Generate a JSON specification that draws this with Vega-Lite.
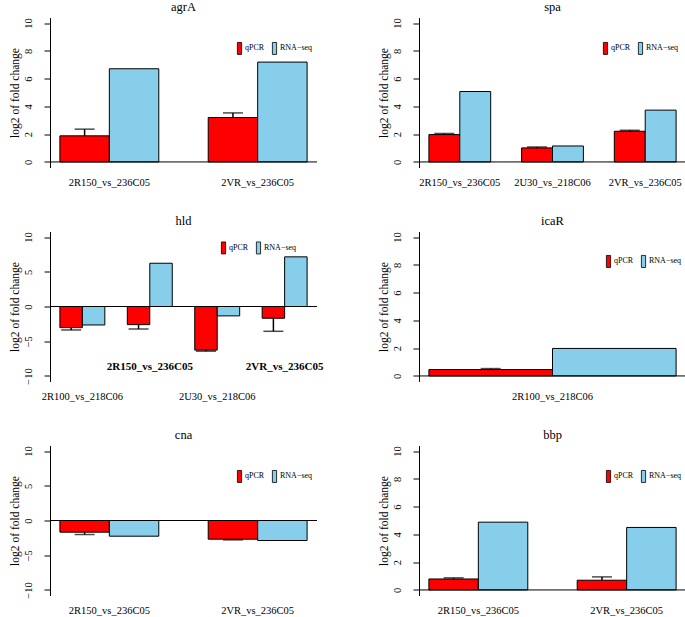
{
  "$schema": "https://vega.github.io/schema/vega-lite/v6.json",
  "padding": {"left": 8, "top": 0.5, "right": 0, "bottom": 0},
  "background": "white",
  "datasets": {
    "d": [
      {"gene": "agrA", "group": "2R150_vs_236C05", "type": "qPCR", "value": 1.88, "err": 2.36},
      {"gene": "agrA", "group": "2R150_vs_236C05", "type": "RNA−seq", "value": 6.71, "err": null},
      {"gene": "agrA", "group": "2VR_vs_236C05", "type": "qPCR", "value": 3.2, "err": 3.53},
      {"gene": "agrA", "group": "2VR_vs_236C05", "type": "RNA−seq", "value": 7.19, "err": null},
      {"gene": "spa", "group": "2R150_vs_236C05", "type": "qPCR", "value": 1.97, "err": 2.05},
      {"gene": "spa", "group": "2R150_vs_236C05", "type": "RNA−seq", "value": 5.07, "err": null},
      {"gene": "spa", "group": "2U30_vs_218C06", "type": "qPCR", "value": 1.01, "err": 1.08},
      {"gene": "spa", "group": "2U30_vs_218C06", "type": "RNA−seq", "value": 1.15, "err": null},
      {"gene": "spa", "group": "2VR_vs_236C05", "type": "qPCR", "value": 2.21, "err": 2.28},
      {"gene": "spa", "group": "2VR_vs_236C05", "type": "RNA−seq", "value": 3.73, "err": null},
      {"gene": "hld", "group": "2R100_vs_218C06", "type": "qPCR", "value": -3.04, "err": -3.38},
      {"gene": "hld", "group": "2R100_vs_218C06", "type": "RNA−seq", "value": -2.66, "err": null},
      {"gene": "hld", "group": "2R150_vs_236C05", "type": "qPCR", "value": -2.61, "err": -3.24},
      {"gene": "hld", "group": "2R150_vs_236C05", "type": "RNA−seq", "value": 6.23, "err": null},
      {"gene": "hld", "group": "2U30_vs_218C06", "type": "qPCR", "value": -6.28, "err": -6.43},
      {"gene": "hld", "group": "2U30_vs_218C06", "type": "RNA−seq", "value": -1.35, "err": null},
      {"gene": "hld", "group": "2VR_vs_236C05", "type": "qPCR", "value": -1.69, "err": -3.57},
      {"gene": "hld", "group": "2VR_vs_236C05", "type": "RNA−seq", "value": 7.15, "err": null},
      {"gene": "icaR", "group": "2R100_vs_218C06", "type": "qPCR", "value": 0.46, "err": 0.53},
      {"gene": "icaR", "group": "2R100_vs_218C06", "type": "RNA−seq", "value": 1.98, "err": null},
      {"gene": "cna", "group": "2R150_vs_236C05", "type": "qPCR", "value": -1.68, "err": -2.02},
      {"gene": "cna", "group": "2R150_vs_236C05", "type": "RNA−seq", "value": -2.26, "err": null},
      {"gene": "cna", "group": "2VR_vs_236C05", "type": "qPCR", "value": -2.69, "err": -2.79},
      {"gene": "cna", "group": "2VR_vs_236C05", "type": "RNA−seq", "value": -2.88, "err": null},
      {"gene": "bbp", "group": "2R150_vs_236C05", "type": "qPCR", "value": 0.79, "err": 0.87},
      {"gene": "bbp", "group": "2R150_vs_236C05", "type": "RNA−seq", "value": 4.88, "err": null},
      {"gene": "bbp", "group": "2VR_vs_236C05", "type": "qPCR", "value": 0.7, "err": 0.94},
      {"gene": "bbp", "group": "2VR_vs_236C05", "type": "RNA−seq", "value": 4.5, "err": null}
    ]
  },
  "columns": 2,
  "spacing": {"row": 64, "column": 102},
  "bounds": "flush",
  "resolve": {"scale": {"x": "independent", "y": "independent", "xOffset": "independent", "color": "independent"}, "legend": {"color": "independent"}, "axis": {"x": "independent", "y": "independent"}},
  "concat": [
    {
      "title": "agrA", "width": 267, "height": 150,
      "data": {"name": "d"},
      "transform": [{"filter": "datum.gene === 'agrA'"}],
      "layer": [
        {"mark": {"type": "bar", "stroke": "black", "strokeWidth": 1},
         "encoding": {
           "x": {"field": "group", "type": "nominal", "sort": null, "title": null, "scale": {"paddingInner": 0.3333, "paddingOuter": 0.0667}},
           "xOffset": {"field": "type", "type": "nominal", "sort": null, "scale": {"paddingInner": 0, "paddingOuter": 0}},
           "y": {"field": "value", "type": "quantitative", "title": "log2 of fold change", "scale": {"domain": [-0.4, 10.4], "nice": false, "zero": false}, "axis": {"values": [0, 2, 4, 6, 8, 10], "tickCount": 20, "format": "d", "labelOverlap": false}},
           "color": {"field": "type", "type": "nominal", "sort": null, "scale": {"domain": ["qPCR", "RNA−seq"], "range": ["#FF0000", "#87CEEB"]}, "legend": {"legendX": 183, "legendY": 24}}
         }},
        {"transform": [{"filter": "datum.type === 'qPCR'"}], "mark": {"type": "rule", "color": "black", "strokeWidth": 1.5},
         "encoding": {"x": {"field": "group", "type": "nominal", "sort": null}, "xOffset": {"field": "type", "type": "nominal", "sort": null}, "y": {"field": "value", "type": "quantitative"}, "y2": {"field": "err"}}},
        {"transform": [{"filter": "datum.type === 'qPCR'"}], "mark": {"type": "tick", "color": "black", "thickness": 1.5, "size": 20},
         "encoding": {"x": {"field": "group", "type": "nominal", "sort": null}, "xOffset": {"field": "type", "type": "nominal", "sort": null}, "y": {"field": "err", "type": "quantitative"}}},
        {"data": {"values": [{}]}, "mark": {"type": "rule", "color": "black", "strokeWidth": 1}, "encoding": {"y": {"datum": 0}}}
      ]
    },
    {
      "title": "spa", "width": 267, "height": 150,
      "data": {"name": "d"},
      "transform": [{"filter": "datum.gene === 'spa'"}],
      "layer": [
        {"mark": {"type": "bar", "stroke": "black", "strokeWidth": 1},
         "encoding": {
           "x": {"field": "group", "type": "nominal", "sort": null, "title": null, "scale": {"paddingInner": 0.3333, "paddingOuter": 0.1067}},
           "xOffset": {"field": "type", "type": "nominal", "sort": null, "scale": {"paddingInner": 0, "paddingOuter": 0}},
           "y": {"field": "value", "type": "quantitative", "title": "log2 of fold change", "scale": {"domain": [-0.4, 10.4], "nice": false, "zero": false}, "axis": {"values": [0, 2, 4, 6, 8, 10], "tickCount": 20, "format": "d", "labelOverlap": false}},
           "color": {"field": "type", "type": "nominal", "sort": null, "scale": {"domain": ["qPCR", "RNA−seq"], "range": ["#FF0000", "#87CEEB"]}, "legend": {"legendX": 180, "legendY": 24}}
         }},
        {"transform": [{"filter": "datum.type === 'qPCR'"}], "mark": {"type": "rule", "color": "black", "strokeWidth": 1.5},
         "encoding": {"x": {"field": "group", "type": "nominal", "sort": null}, "xOffset": {"field": "type", "type": "nominal", "sort": null}, "y": {"field": "value", "type": "quantitative"}, "y2": {"field": "err"}}},
        {"transform": [{"filter": "datum.type === 'qPCR'"}], "mark": {"type": "tick", "color": "black", "thickness": 1.5, "size": 20},
         "encoding": {"x": {"field": "group", "type": "nominal", "sort": null}, "xOffset": {"field": "type", "type": "nominal", "sort": null}, "y": {"field": "err", "type": "quantitative"}}},
        {"data": {"values": [{}]}, "mark": {"type": "rule", "color": "black", "strokeWidth": 1}, "encoding": {"y": {"datum": 0}}}
      ]
    },
    {
      "title": "hld", "width": 267, "height": 150,
      "data": {"name": "d"},
      "transform": [{"filter": "datum.gene === 'hld'"}],
      "layer": [
        {"mark": {"type": "bar", "stroke": "black", "strokeWidth": 1},
         "encoding": {
           "x": {"field": "group", "type": "nominal", "sort": null, "title": null, "scale": {"paddingInner": 0.3333, "paddingOuter": 0.1467},
                 "axis": {"labelPadding": {"condition": {"test": "datum.value === '2R150_vs_236C05' || datum.value === '2VR_vs_236C05'", "value": -21}, "value": 10},
                          "labelFontWeight": {"condition": {"test": "datum.value === '2R150_vs_236C05' || datum.value === '2VR_vs_236C05'", "value": "bold"}, "value": "normal"},
                          "labelFontSize": {"condition": {"test": "datum.value === '2R150_vs_236C05' || datum.value === '2VR_vs_236C05'", "value": 11}, "value": 10.5}}},
           "xOffset": {"field": "type", "type": "nominal", "sort": null, "scale": {"paddingInner": 0, "paddingOuter": 0}},
           "y": {"field": "value", "type": "quantitative", "title": "log2 of fold change", "scale": {"domain": [-10.8, 10.8], "nice": false, "zero": false}, "axis": {"values": [-10, -5, 0, 5, 10], "tickCount": 20, "format": "d", "labelOverlap": false}},
           "color": {"field": "type", "type": "nominal", "sort": null, "scale": {"domain": ["qPCR", "RNA−seq"], "range": ["#FF0000", "#87CEEB"]}, "legend": {"legendX": 167, "legendY": 9.5}}
         }},
        {"transform": [{"filter": "datum.type === 'qPCR'"}], "mark": {"type": "rule", "color": "black", "strokeWidth": 1.5},
         "encoding": {"x": {"field": "group", "type": "nominal", "sort": null}, "xOffset": {"field": "type", "type": "nominal", "sort": null}, "y": {"field": "value", "type": "quantitative"}, "y2": {"field": "err"}}},
        {"transform": [{"filter": "datum.type === 'qPCR'"}], "mark": {"type": "tick", "color": "black", "thickness": 1.5, "size": 20},
         "encoding": {"x": {"field": "group", "type": "nominal", "sort": null}, "xOffset": {"field": "type", "type": "nominal", "sort": null}, "y": {"field": "err", "type": "quantitative"}}},
        {"data": {"values": [{}]}, "mark": {"type": "rule", "color": "black", "strokeWidth": 1}, "encoding": {"y": {"datum": 0}}}
      ]
    },
    {
      "title": "icaR", "width": 267, "height": 150,
      "data": {"name": "d"},
      "transform": [{"filter": "datum.gene === 'icaR'"}],
      "layer": [
        {"mark": {"type": "bar", "stroke": "black", "strokeWidth": 1},
         "encoding": {
           "x": {"field": "group", "type": "nominal", "sort": null, "title": null, "scale": {"paddingInner": 0.3333, "paddingOuter": 0.0267}},
           "xOffset": {"field": "type", "type": "nominal", "sort": null, "scale": {"paddingInner": 0, "paddingOuter": 0}},
           "y": {"field": "value", "type": "quantitative", "title": "log2 of fold change", "scale": {"domain": [-0.4, 10.4], "nice": false, "zero": false}, "axis": {"values": [0, 2, 4, 6, 8, 10], "tickCount": 20, "format": "d", "labelOverlap": false}},
           "color": {"field": "type", "type": "nominal", "sort": null, "scale": {"domain": ["qPCR", "RNA−seq"], "range": ["#FF0000", "#87CEEB"]}, "legend": {"legendX": 183, "legendY": 23}}
         }},
        {"transform": [{"filter": "datum.type === 'qPCR'"}], "mark": {"type": "rule", "color": "black", "strokeWidth": 1.5},
         "encoding": {"x": {"field": "group", "type": "nominal", "sort": null}, "xOffset": {"field": "type", "type": "nominal", "sort": null}, "y": {"field": "value", "type": "quantitative"}, "y2": {"field": "err"}}},
        {"transform": [{"filter": "datum.type === 'qPCR'"}], "mark": {"type": "tick", "color": "black", "thickness": 1.5, "size": 20},
         "encoding": {"x": {"field": "group", "type": "nominal", "sort": null}, "xOffset": {"field": "type", "type": "nominal", "sort": null}, "y": {"field": "err", "type": "quantitative"}}},
        {"data": {"values": [{}]}, "mark": {"type": "rule", "color": "black", "strokeWidth": 1}, "encoding": {"y": {"datum": 0}}}
      ]
    },
    {
      "title": "cna", "width": 267, "height": 150,
      "data": {"name": "d"},
      "transform": [{"filter": "datum.gene === 'cna'"}],
      "layer": [
        {"mark": {"type": "bar", "stroke": "black", "strokeWidth": 1},
         "encoding": {
           "x": {"field": "group", "type": "nominal", "sort": null, "title": null, "scale": {"paddingInner": 0.3333, "paddingOuter": 0.0667}},
           "xOffset": {"field": "type", "type": "nominal", "sort": null, "scale": {"paddingInner": 0, "paddingOuter": 0}},
           "y": {"field": "value", "type": "quantitative", "title": "log2 of fold change", "scale": {"domain": [-10.8, 10.8], "nice": false, "zero": false}, "axis": {"values": [-10, -5, 0, 5, 10], "tickCount": 20, "format": "d", "labelOverlap": false}},
           "color": {"field": "type", "type": "nominal", "sort": null, "scale": {"domain": ["qPCR", "RNA−seq"], "range": ["#FF0000", "#87CEEB"]}, "legend": {"legendX": 183, "legendY": 24}}
         }},
        {"transform": [{"filter": "datum.type === 'qPCR'"}], "mark": {"type": "rule", "color": "black", "strokeWidth": 1.5},
         "encoding": {"x": {"field": "group", "type": "nominal", "sort": null}, "xOffset": {"field": "type", "type": "nominal", "sort": null}, "y": {"field": "value", "type": "quantitative"}, "y2": {"field": "err"}}},
        {"transform": [{"filter": "datum.type === 'qPCR'"}], "mark": {"type": "tick", "color": "black", "thickness": 1.5, "size": 20},
         "encoding": {"x": {"field": "group", "type": "nominal", "sort": null}, "xOffset": {"field": "type", "type": "nominal", "sort": null}, "y": {"field": "err", "type": "quantitative"}}},
        {"data": {"values": [{}]}, "mark": {"type": "rule", "color": "black", "strokeWidth": 1}, "encoding": {"y": {"datum": 0}}}
      ]
    },
    {
      "title": "bbp", "width": 267, "height": 150,
      "data": {"name": "d"},
      "transform": [{"filter": "datum.gene === 'bbp'"}],
      "layer": [
        {"mark": {"type": "bar", "stroke": "black", "strokeWidth": 1},
         "encoding": {
           "x": {"field": "group", "type": "nominal", "sort": null, "title": null, "scale": {"paddingInner": 0.3333, "paddingOuter": 0.0667}},
           "xOffset": {"field": "type", "type": "nominal", "sort": null, "scale": {"paddingInner": 0, "paddingOuter": 0}},
           "y": {"field": "value", "type": "quantitative", "title": "log2 of fold change", "scale": {"domain": [-0.4, 10.4], "nice": false, "zero": false}, "axis": {"values": [0, 2, 4, 6, 8, 10], "tickCount": 20, "format": "d", "labelOverlap": false}},
           "color": {"field": "type", "type": "nominal", "sort": null, "scale": {"domain": ["qPCR", "RNA−seq"], "range": ["#FF0000", "#87CEEB"]}, "legend": {"legendX": 183, "legendY": 24}}
         }},
        {"transform": [{"filter": "datum.type === 'qPCR'"}], "mark": {"type": "rule", "color": "black", "strokeWidth": 1.5},
         "encoding": {"x": {"field": "group", "type": "nominal", "sort": null}, "xOffset": {"field": "type", "type": "nominal", "sort": null}, "y": {"field": "value", "type": "quantitative"}, "y2": {"field": "err"}}},
        {"transform": [{"filter": "datum.type === 'qPCR'"}], "mark": {"type": "tick", "color": "black", "thickness": 1.5, "size": 20},
         "encoding": {"x": {"field": "group", "type": "nominal", "sort": null}, "xOffset": {"field": "type", "type": "nominal", "sort": null}, "y": {"field": "err", "type": "quantitative"}}},
        {"data": {"values": [{}]}, "mark": {"type": "rule", "color": "black", "strokeWidth": 1}, "encoding": {"y": {"datum": 0}}}
      ]
    }
  ],
  "config": {
    "view": {"stroke": null},
    "font": "Liberation Serif",
    "title": {"font": "Liberation Serif", "fontSize": 12.5, "fontWeight": "normal", "color": "black", "anchor": "middle", "baseline": "alphabetic", "offset": 4},
    "axis": {"labelFont": "Liberation Serif", "titleFont": "Liberation Serif", "labelColor": "black", "titleColor": "black", "domainColor": "black", "tickColor": "black", "titleFontWeight": "normal", "grid": false},
    "axisX": {"domain": false, "ticks": false, "tickSize": 0, "labelPadding": 10, "labelFontSize": 10.5, "labelAngle": 0, "labelLimit": 400},
    "axisY": {"labelAngle": -90, "labelAlign": "center", "labelBaseline": "bottom", "labelOverlap": false, "tickCount": 20, "format": "d", "tickSize": 6, "labelPadding": 11, "labelFontSize": 10.5, "titleFontSize": 11.5, "titlePadding": 3, "domainWidth": 1},
    "legend": {"orient": "none", "direction": "horizontal", "title": null, "symbolType": "M-0.35,-1H0.35V1H-0.35Z", "symbolSize": 144, "symbolStrokeColor": "black", "symbolStrokeWidth": 0.8, "labelFont": "Liberation Serif", "labelFontSize": 8, "labelColor": "black", "labelOffset": -1, "columnPadding": 3, "padding": 0}
  }
}
